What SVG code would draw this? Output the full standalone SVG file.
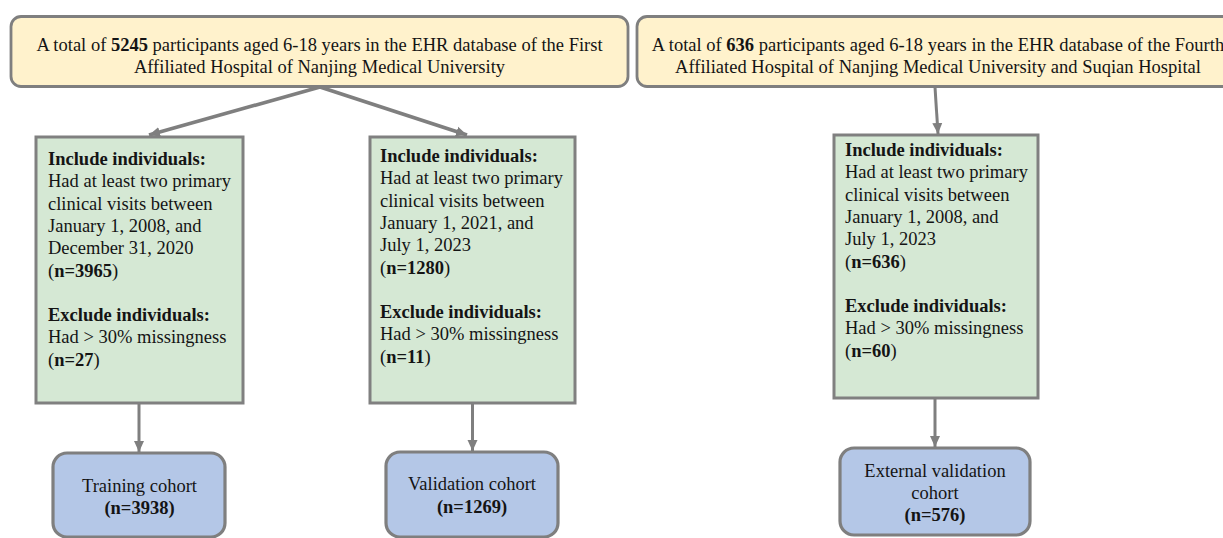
<svg xmlns="http://www.w3.org/2000/svg" width="1223" height="538" viewBox="0 0 1223 538">
<defs>
<style>
text{font-family:"Liberation Serif","Times New Roman",serif;font-size:18.5px;fill:#141414}
.b{font-weight:bold}
.c{text-anchor:middle}
.src{fill:#fff2cc;stroke:#7f7f7f;stroke-width:2.8}
.crit{fill:#d5e8d4;stroke:#808080;stroke-width:3}
.out{fill:#b4c7e7;stroke:#7f7f7f;stroke-width:3.2}
.edge{fill:none;stroke:#7f7f7f;stroke-width:3}
.diag{stroke-width:3.6}
</style>
<marker id="ah" markerUnits="userSpaceOnUse" markerWidth="12" markerHeight="12" viewBox="0 0 12 12" refX="11" refY="6" orient="auto">
<path d="M0,1 L11,6 L0,11 Z" fill="#7f7f7f"/>
</marker>
</defs>

<g id="connectors">
<line class="edge diag" x1="320" y1="87" x2="149" y2="135" marker-end="url(#ah)"/>
<line class="edge diag" x1="320" y1="87" x2="467" y2="135" marker-end="url(#ah)"/>
<line class="edge" x1="935" y1="87" x2="938" y2="134" marker-end="url(#ah)" stroke-width="2.5"/>
<line class="edge" x1="139" y1="403" x2="139" y2="452" marker-end="url(#ah)"/>
<line class="edge" x1="472.5" y1="403" x2="472.5" y2="451" marker-end="url(#ah)"/>
<line class="edge" x1="935" y1="398" x2="935" y2="447" marker-end="url(#ah)"/>
</g>

<g id="source-first">
<rect class="src" x="11" y="16.5" width="617" height="70" rx="10"/>
<text class="c" x="319.5" y="51">A total of <tspan class="b">5245</tspan> participants aged 6-18 years in the EHR database of the First</text>
<text class="c" x="319.5" y="72.5">Affiliated Hospital of Nanjing Medical University</text>
</g>

<g id="source-fourth">
<rect class="src" x="637" y="16.5" width="610" height="70" rx="10"/>
<text class="c" x="938" y="51">A total of <tspan class="b">636</tspan> participants aged 6-18 years in the EHR database of the Fourth</text>
<text class="c" x="938" y="72.5">Affiliated Hospital of Nanjing Medical University and Suqian Hospital</text>
</g>

<g id="criteria-training">
<rect class="crit" x="36" y="137" width="207" height="266"/>
<text x="48" y="165"><tspan class="b">Include individuals:</tspan>
<tspan x="48" y="187.3">Had at least two primary</tspan>
<tspan x="48" y="209.6">clinical visits between</tspan>
<tspan x="48" y="231.9">January 1, 2008, and</tspan>
<tspan x="48" y="254.2">December 31, 2020</tspan>
<tspan x="48" y="276.5">(<tspan class="b">n=3965</tspan>)</tspan>
<tspan x="48" y="321" class="b">Exclude individuals:</tspan>
<tspan x="48" y="343.3">Had &gt; 30% missingness</tspan>
<tspan x="48" y="365.6">(<tspan class="b">n=27</tspan>)</tspan></text>
</g>

<g id="criteria-validation">
<rect class="crit" x="370" y="137" width="205" height="266"/>
<text x="380" y="162"><tspan class="b">Include individuals:</tspan>
<tspan x="380" y="184.3">Had at least two primary</tspan>
<tspan x="380" y="206.6">clinical visits between</tspan>
<tspan x="380" y="228.9">January 1, 2021, and</tspan>
<tspan x="380" y="251.2">July 1, 2023</tspan>
<tspan x="380" y="273.5">(<tspan class="b">n=1280</tspan>)</tspan>
<tspan x="380" y="318" class="b">Exclude individuals:</tspan>
<tspan x="380" y="340.3">Had &gt; 30% missingness</tspan>
<tspan x="380" y="362.6">(<tspan class="b">n=11</tspan>)</tspan></text>
</g>

<g id="criteria-external">
<rect class="crit" x="834" y="135" width="204" height="263"/>
<text x="845" y="156"><tspan class="b">Include individuals:</tspan>
<tspan x="845" y="178.3">Had at least two primary</tspan>
<tspan x="845" y="200.6">clinical visits between</tspan>
<tspan x="845" y="222.9">January 1, 2008, and</tspan>
<tspan x="845" y="245.2">July 1, 2023</tspan>
<tspan x="845" y="267.5">(<tspan class="b">n=636</tspan>)</tspan>
<tspan x="845" y="312" class="b">Exclude individuals:</tspan>
<tspan x="845" y="334.3">Had &gt; 30% missingness</tspan>
<tspan x="845" y="356.6">(<tspan class="b">n=60</tspan>)</tspan></text>
</g>

<g id="training-cohort">
<rect class="out" x="53" y="453" width="172" height="84" rx="14"/>
<text class="c" x="139.5" y="491.5">Training cohort</text>
<text class="c b" x="139.5" y="514">(n=3938)</text>
</g>

<g id="validation-cohort">
<rect class="out" x="386" y="452" width="172" height="85" rx="14"/>
<text class="c" x="472" y="490">Validation cohort</text>
<text class="c b" x="472" y="512.5">(n=1269)</text>
</g>

<g id="external-validation-cohort">
<rect class="out" x="840" y="448" width="190" height="87" rx="14"/>
<text class="c" x="935" y="477">External validation</text>
<text class="c" x="935" y="499">cohort</text>
<text class="c b" x="935" y="520.5">(n=576)</text>
</g>
</svg>
